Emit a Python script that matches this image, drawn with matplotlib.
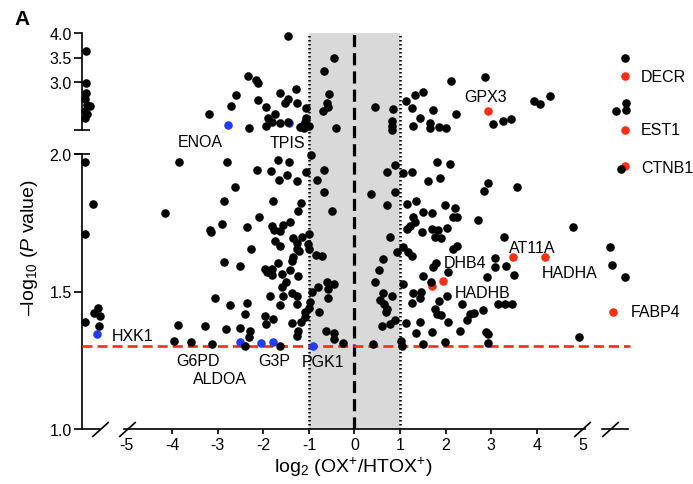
import numpy as np
import matplotlib.pyplot as plt
from matplotlib.transforms import blended_transform_factory

plt.rcParams['font.family'] = ['Liberation Sans', 'DejaVu Sans']
plt.rcParams['mathtext.fontset'] = 'custom'
plt.rcParams['mathtext.rm'] = 'Liberation Sans'
plt.rcParams['mathtext.it'] = 'Liberation Sans:italic'
plt.rcParams['axes.unicode_minus'] = False

W, H = 693, 485

# ---- data: log2 fold change and -log10(P) ----
# proteins only seen in HTOX+ (left column, x is jitter inside the column)
left_hi_x = [0.22, 0.22, 0.22, 0.17, 0.29, 0.44, 0.17, 0.29, 0.17]
left_hi_p = [3.63, 2.97, 2.76, 2.64, 2.52, 2.49, 2.40, 2.33, 2.24]
left_lo_x = [0.17, 0.63, 0.17, 0.17, 0.91, 0.67, 1.00, 0.96]
left_lo_p = [1.970, 1.818, 1.709, 1.390, 1.439, 1.421, 1.412, 1.373]

# proteins only seen in OX+ (right column)
right_hi_x = [0.90, 0.92, 0.53, 0.92]
right_hi_p = [3.48, 2.57, 2.40, 2.42]
right_lo_x = [0.74, 0.30, 0.39, 0.89]
right_lo_p = [1.945, 1.663, 1.596, 1.552]

# upper segment (-log10 P > 2)
hi_fc = [-1.45, -0.44, -0.66, -2.34, -2.16, -2.11, -2.59, -1.28, -0.55, -1.63,
         -2.12, -1.46, -1.52, -1.26, -2.70, -1.94, -0.61, -0.57, -0.68, -1.06,
         -3.19, -1.74, -1.89, -1.81, -1.63, -1.46, -1.06, -1.08, -1.15, -0.99,
         -1.94, -2.31, -0.40, -1.10, -1.19,
         2.12, 2.87, 1.51, 1.32, 1.13, 0.45, 0.84, 1.26, 1.73, 2.22,
         1.43, 1.29, 0.82, 0.82, 0.82, 1.65, 1.65, 1.86, 2.01, 3.03,
         3.25, 3.44, 3.95, 4.07, 4.28]
hi_p = [3.95, 3.48, 3.23, 3.12, 3.04, 2.97, 2.73, 2.85, 2.75, 2.76,
        2.63, 2.64, 2.57, 2.56, 2.49, 2.47, 2.56, 2.47, 2.40, 2.45,
        2.33, 2.33, 2.26, 2.16, 2.14, 2.17, 2.24, 2.16, 2.09, 2.09,
        2.08, 2.04, 2.04, 2.04, 2.06,
        3.01, 3.09, 2.78, 2.73, 2.61, 2.47, 2.44, 2.45, 2.42, 2.33,
        2.24, 2.09, 2.19, 2.09, 2.01, 2.15, 2.04, 2.06, 2.04, 2.13,
        2.19, 2.23, 2.61, 2.54, 2.71]

# lower segment (1 < -log10 P < 2)
lo_fc = [-3.84, -2.80, -2.63, -2.86, -4.15, -3.16, -3.14, -2.91, -2.87, -2.52,
         -3.05, -2.74, -3.87, -3.29, -2.82, -2.52, -3.97, -3.58, -3.13,
         -0.96, -1.67, -1.43, -2.13, -1.83, -1.48, -1.65, -1.26, -1.06, -0.66,
         -0.82, -0.66, -1.79, -1.17, -1.23, -0.50, -2.09, -1.41, -1.56, -1.80,
         -2.35, -1.76, -1.63, -1.34, -1.15, -0.99, -1.74, -1.64, -1.26, -1.03,
         -1.26, -1.21, -2.27, -0.99, -0.85, -0.71, -1.34, -1.37, -1.67, -1.97,
         -1.91, -1.81, -1.81, -1.59, -1.41, -1.23, -1.50, -1.59, -0.61, -0.45,
         -0.57, -0.81, -0.93, -1.85, -1.56, -1.37, -1.26, -0.58, -1.63, -0.97,
         -0.99, -2.35, -1.26, -1.08, -2.40, -1.96, -0.77, -1.79, -1.08, -1.18,
         -1.37, -1.94, -0.62, -2.29, -1.23, -1.26, -0.45, -2.32, -0.45, -0.25,
         -1.63, -2.40,
         0.36, 0.72, 0.89, 0.88, 0.71, 0.78, 0.62, 0.53, 0.45, 0.62,
         0.82, 0.56, 0.64, 0.71, 0.70, 0.60, 0.78, 0.89, 0.40, 1.02,
         1.04, 1.06, 0.94,
         1.07, 1.26, 1.82, 2.10, 1.62, 1.88, 2.93, 2.84, 1.35, 1.15,
         1.99, 2.21, 1.50, 1.70, 1.29, 1.33, 1.22, 1.15, 2.16, 2.25,
         2.70, 1.70, 1.84, 2.04, 1.48, 1.77, 1.89, 2.25, 2.17, 1.07,
         1.18, 1.26, 1.79, 1.72, 1.51, 2.06, 3.09, 3.09, 2.90, 1.68,
         1.29, 1.46, 2.04, 1.26, 1.44, 1.86, 2.36, 1.77, 1.82, 1.89,
         2.83, 2.54, 2.63, 2.48, 2.06, 1.43, 3.14, 1.13, 1.70, 1.35,
         2.32, 2.89, 2.94, 1.99, 1.51, 2.93,
         3.56, 4.79, 3.28, 3.32, 3.49, 3.30, 3.45, 4.93]
lo_p = [1.972, 1.970, 1.879, 1.830, 1.784, 1.724, 1.715, 1.745, 1.606, 1.594,
        1.476, 1.451, 1.378, 1.373, 1.364, 1.366, 1.321, 1.317, 1.309,
        1.996, 1.979, 1.972, 1.942, 1.937, 1.924, 1.907, 1.903, 1.936, 1.942,
        1.905, 1.863, 1.828, 1.821, 1.792, 1.794, 1.770, 1.752, 1.743, 1.737,
        1.736, 1.725, 1.721, 1.693, 1.697, 1.709, 1.685, 1.667, 1.676, 1.673,
        1.655, 1.648, 1.655, 1.655, 1.634, 1.630, 1.624, 1.612, 1.604, 1.582,
        1.570, 1.582, 1.560, 1.564, 1.579, 1.557, 1.536, 1.517, 1.533, 1.527,
        1.509, 1.515, 1.499, 1.485, 1.485, 1.495, 1.485, 1.476, 1.451, 1.461,
        1.439, 1.458, 1.455, 1.424, 1.418, 1.412, 1.427, 1.400, 1.406, 1.388,
        1.385, 1.382, 1.357, 1.357, 1.357, 1.339, 1.349, 1.336, 1.327, 1.313,
        1.303, 1.301,
        1.855, 1.936, 1.960, 1.861, 1.815, 1.697, 1.618, 1.579, 1.533, 1.495,
        1.483, 1.470, 1.455, 1.436, 1.424, 1.376, 1.382, 1.397, 1.309, 1.321,
        1.303, 1.527, 1.643,
        1.931, 1.936, 1.972, 1.964, 1.903, 1.912, 1.895, 1.867, 1.830, 1.818,
        1.815, 1.803, 1.788, 1.785, 1.770, 1.754, 1.739, 1.727, 1.770, 1.770,
        1.760, 1.727, 1.725, 1.731, 1.717, 1.697, 1.693, 1.664, 1.655, 1.661,
        1.645, 1.628, 1.604, 1.588, 1.557, 1.570, 1.621, 1.588, 1.552, 1.533,
        1.495, 1.499, 1.485, 1.458, 1.475, 1.467, 1.455, 1.436, 1.418, 1.415,
        1.433, 1.418, 1.422, 1.397, 1.390, 1.390, 1.455, 1.385, 1.354, 1.349,
        1.357, 1.354, 1.344, 1.317, 1.309, 1.313,
        1.879, 1.733, 1.697, 1.592, 1.560, 1.455, 1.455, 1.333]

# highlighted proteins: name, column, x, -log10 P, group
hl_names = ['ENOA', 'TPIS', 'GPX3', 'DECR', 'EST1', 'CTNB1', 'FABP4', 'AT11A',
            'HADHA', 'DHB4', 'HADHB', 'HXK1', 'G6PD', 'ALDOA', 'G3P', 'PGK1']
hl_col = ['mid', 'mid', 'mid', 'right', 'right', 'right', 'right', 'mid',
          'mid', 'mid', 'mid', 'left', 'mid', 'mid', 'mid', 'mid']
hl_x = [-2.78, -1.43, 2.92, 0.88, 0.88, 0.88, 0.42, 3.47,
        4.18, 1.95, 1.70, 0.82, -2.51, -2.05, -1.78, -0.92]
hl_p = [2.11, 2.14, 2.39, 3.11, 2.01, 1.955, 1.427, 1.627,
        1.624, 1.539, 1.521, 1.345, 1.317, 1.313, 1.317, 1.301]
hl_group = ['glyco', 'glyco', 'lipid', 'lipid', 'lipid', 'lipid', 'lipid', 'lipid',
            'lipid', 'lipid', 'lipid', 'glyco', 'glyco', 'glyco', 'glyco', 'glyco']

p_cut = -np.log10(0.05)
fc_cut = 1

# ---- figure ----
fig = plt.figure(figsize=(W / 100, H / 100), dpi=100)


def px_axes(x0, y0, x1, y1):
    ax = fig.add_axes([x0 / W, 1 - y1 / H, (x1 - x0) / W, (y1 - y0) / H])
    ax.patch.set_alpha(0)
    for s in ax.spines.values():
        s.set_visible(False)
        s.set_linewidth(1.2)
    ax.set_xticks([])
    ax.set_yticks([])
    return ax


top_y0, top_y1 = 34.3, 131.1
bot_y0, bot_y1 = 155, 430
mid_x0, mid_x1 = 124.3, 584.6
fc_lim = (-5.05, 5.05)

ax_bg = px_axes(mid_x0, top_y0, mid_x1, bot_y1)
ax_bg.set_xlim(fc_lim)
ax_bg.axvspan(-fc_cut, fc_cut, color='#d9d9d9', lw=0)
for v in (-fc_cut, fc_cut):
    ax_bg.axvline(v, color='k', lw=1.8, linestyle=(0, (0.6, 1.0)))
ax_bg.axvline(0, color='k', lw=2.3, linestyle=(0, (3.8, 1.9)))

ax_ul = px_axes(82, top_y0, 100, top_y1)
ax_um = px_axes(mid_x0, top_y0, mid_x1, top_y1)
ax_ur = px_axes(602, top_y0, 628, top_y1)
ax_ll = px_axes(82, bot_y0, 100, bot_y1)
ax_lm = px_axes(mid_x0, bot_y0, mid_x1, bot_y1)
ax_lr = px_axes(602, bot_y0, 628, bot_y1)

for ax in (ax_ul, ax_um, ax_ur):
    ax.set_ylim(2.0, 4.0)
for ax in (ax_ll, ax_lm, ax_lr):
    ax.set_ylim(1.0, 2.0)
for ax in (ax_ul, ax_ll, ax_ur, ax_lr):
    ax.set_xlim(0, 1)
for ax in (ax_um, ax_lm):
    ax.set_xlim(fc_lim)

# y axis
ax_ul.spines['left'].set_visible(True)
ax_ll.spines['left'].set_visible(True)
ax_ul.set_yticks([3.0, 3.5, 4.0], ['3.0', '3.5', '4.0'])
ax_ll.set_yticks([1.0, 1.5, 2.0], ['1.0', '1.5', '2.0'])
for ax in (ax_ul, ax_ll):
    ax.tick_params(axis='y', length=6, width=1.2, pad=1.5, labelsize=11.5)

# x axis
for ax in (ax_ll, ax_lm, ax_lr):
    ax.spines['bottom'].set_visible(True)
ax_lm.set_xticks(range(-4, 5), [str(v) for v in range(-4, 5)])
ax_lm.set_xticks([-5, 5], ['-5', '5'], minor=True)
ax_lm.tick_params(axis='x', which='major', length=3.8, width=1.2, pad=2, labelsize=11.5)
ax_lm.tick_params(axis='x', which='minor', length=0, pad=5.8, labelsize=11.5)

# break marks
slash = [(-1, -0.9), (1, 0.9)]
flat = [(-1, 0), (1, 0)]
mk = dict(marker=slash, markersize=12, linestyle='none', color='k', mew=1.2, clip_on=False)
ax_ll.plot([1], [0], transform=ax_ll.transAxes, **mk)
ax_lm.plot([-5, 5], [1.0, 1.0], **mk)
ax_lr.plot([0.3], [0], transform=ax_lr.transAxes, **mk)
mk['marker'] = flat
ax_ul.plot([0], [0], transform=ax_ul.transAxes, **mk)
ax_ll.plot([0], [1], transform=ax_ll.transAxes, **mk)

# significance line
tr = blended_transform_factory(fig.transFigure, ax_lm.transData)
ax_lm.plot([82 / W, 630 / W], [p_cut, p_cut], transform=tr, color='#ff2a12',
           lw=1.9, linestyle=(0, (3.8, 1.9)), clip_on=False, zorder=1)

# points
dot = dict(s=38, linewidths=0, clip_on=False, zorder=3)
ax_ul.scatter(left_hi_x, left_hi_p, color='k', **dot)
ax_ll.scatter(left_lo_x, left_lo_p, color='k', **dot)
ax_ur.scatter(right_hi_x, right_hi_p, color='k', **dot)
ax_lr.scatter(right_lo_x, right_lo_p, color='k', **dot)
ax_um.scatter(hi_fc, hi_p, color='k', **dot)
ax_lm.scatter(lo_fc, lo_p, color='k', **dot)

colors = {'glyco': '#1f3cff', 'lipid': '#ff2d14'}
hl_dot = dict(dot, zorder=2.5)
# label offsets in pixels relative to point (dx, dy, ha)
offsets = {
    'ENOA': (-28, -17, 'center'), 'TPIS': (-2, -19, 'center'),
    'GPX3': (-2, 15, 'center'), 'DECR': (16, 0, 'left'),
    'EST1': (16, 0, 'left'), 'CTNB1': (16, -1, 'left'),
    'FABP4': (18, 0, 'left'), 'AT11A': (20, 9, 'center'),
    'HADHA': (25, -15, 'center'), 'DHB4': (22, 18, 'center'),
    'HADHB': (51, -7, 'center'), 'HXK1': (15, -1, 'left'),
    'G6PD': (-42, -19, 'center'), 'ALDOA': (-41, -36, 'center'),
    'G3P': (1, -19, 'center'), 'PGK1': (11, -15, 'center'),
}
for name, col, x, p, grp in zip(hl_names, hl_col, hl_x, hl_p, hl_group):
    if col == 'left':
        ax = ax_ll
    elif col == 'right':
        ax = ax_ur if p >= 2 else ax_lr
    else:
        ax = ax_um if p >= 2 else ax_lm
    ax.scatter([x], [p], color=colors[grp], **hl_dot)
    dx, dy, ha = offsets[name]
    ax.annotate(name, (x, p), xytext=(dx, dy), textcoords='offset pixels',
                ha=ha, va='center', fontsize=11.5, annotation_clip=False, zorder=4)

fig.text(30 / W, 1 - 248 / H, '\u2013log$_{10}$ ($P$ value)', rotation=90,
         ha='center', va='center', fontsize=14)
fig.text(353 / W, 1 - 467 / H, 'log$_2$ (OX$^{+}$/HTOX$^{+}$)',
         ha='center', va='center', fontsize=14)
fig.text(22 / W, 1 - 19.5 / H, 'A', ha='center', va='center', fontsize=15,
         fontweight='bold')

fig.savefig('out.png', dpi=100)
